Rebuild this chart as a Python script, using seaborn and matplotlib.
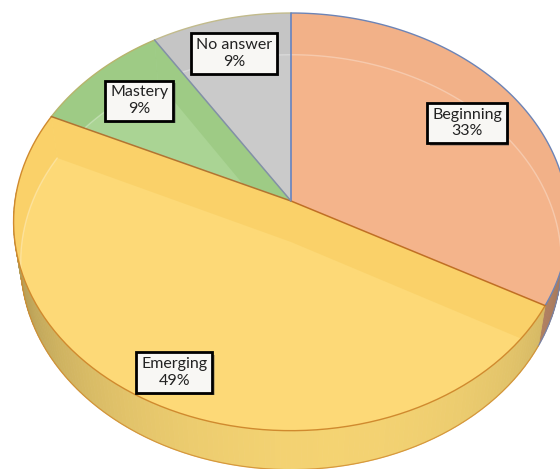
import numpy as np
import matplotlib
matplotlib.use("Agg")
import matplotlib.pyplot as plt
import matplotlib.patheffects as pe
from matplotlib.patches import Polygon
import seaborn as sns

# Survey result shares
categories = ["Beginning", "Emerging", "Mastery", "No answer"]
shares = [33, 49, 9, 9]

# Slice styling
top_colors = ["#F4B48B", "#FDD977", "#AAD494", "#CACACA"]
shade_colors = ["#F0AE84", "#F8CD60", "#9AC881", "#C2C2C2"]
shade_alpha = [0.35, 0.6, 0.75, 0.5]
side_colors = ["#C9926F", "#F3D272", "#98C57F", "#B5B5B5"]
rim_colors = ["#6D84B6", "#D08A2E", "#B8B46C", "#C2BB8C"]
boundary_colors = ["#5B7EC2", "#C06F24", "#B27431", "#8290A6"]
label_radius = [0.77, 0.86, 0.77, 0.80]

sns.set_theme(style="white")
plt.rcParams["font.family"] = ["Lato", "DejaVu Sans"]
palette = sns.color_palette(top_colors)

W, H = 560, 469
fig = plt.figure(figsize=(W / 100, H / 100), dpi=100)
ax = fig.add_axes([0, 0, 1, 1])
ax.set_xlim(0, W)
ax.set_ylim(H, 0)
ax.axis("off")

# Perspective camera looking down on a flat cylinder of radius 1
ELEV = np.deg2rad(48.5)
DIST = 6.64
FOCAL = 1833.0
CX, CY = 291.0, 201.0
THICK = 0.23


def project(theta, r=1.0, z=0.0):
    theta = np.asarray(theta, dtype=float)
    X = r * np.sin(theta)
    Y = r * np.cos(theta)
    d = DIST + Y * np.cos(ELEV) - z * np.sin(ELEV)
    up = Y * np.sin(ELEV) + z * np.cos(ELEV)
    return CX + FOCAL * X / d, CY - FOCAL * up / d


def arc(a, b, r=1.0, z=0.0, n=None):
    n = n or max(8, int(abs(b - a) / np.deg2rad(1.0)))
    t = np.linspace(a, b, n)
    x, y = project(t, r, z)
    return np.column_stack([x, y])


def shade(color, f):
    rgb = np.array(matplotlib.colors.to_rgb(color))
    return tuple(np.clip(rgb * f, 0, 1))


total = float(sum(shares))
bounds = np.concatenate([[0.0], np.cumsum(shares) / total]) * 2 * np.pi
center_top = np.array(project(0.0, 0.0, 0.0))
center_bot = np.array(project(0.0, 0.0, -THICK))

# Outer side wall, drawn back to front
quads = []
for i in range(len(shares)):
    a, b = bounds[i], bounds[i + 1]
    steps = max(2, int(abs(b - a) / np.deg2rad(1.0)))
    ts = np.linspace(a, b, steps + 1)
    for t0, t1 in zip(ts[:-1], ts[1:]):
        tm = 0.5 * (t0 + t1)
        if np.cos(tm) > 0.05:
            continue
        pts = np.vstack([arc(t0, t1, z=0.0, n=2), arc(t1, t0, z=-THICK, n=2)])
        f = 0.70 + 0.30 * max(0.0, -np.cos(tm)) + 0.04 * np.sin(tm)
        quads.append((np.cos(tm), pts, shade(side_colors[i], f), i))
quads.sort(key=lambda q: -q[0])
for _, pts, col, i in quads:
    ax.add_patch(Polygon(pts, closed=True, facecolor=col, edgecolor=col,
                         linewidth=0.6, zorder=1))

# Front rims of the side wall
front = np.deg2rad([100.0, 260.0])
for i in range(len(shares)):
    a = max(bounds[i], front[0])
    b = min(bounds[i + 1], front[1])
    if b <= a:
        continue
    bot = arc(a, b, z=-THICK)
    ax.plot(bot[:, 0], bot[:, 1], color=rim_colors[i], lw=0.9, alpha=0.8, zorder=2)

# Top faces
top_patches = []
for i in range(len(shares)):
    a, b = bounds[i], bounds[i + 1]
    pts = np.vstack([center_top, arc(a, b)])
    poly = Polygon(pts, closed=True, facecolor=palette[i], edgecolor="none",
                   zorder=3, transform=ax.transData)
    ax.add_patch(poly)
    top_patches.append(poly)

# Inner walls and back rim seen through the translucent top
for i in range(len(shares)):
    a, b = bounds[i], bounds[i + 1]
    clip = top_patches[i]
    band = np.vstack([arc(a, b, z=0.0), arc(b, a, z=-THICK)])
    p = Polygon(band, closed=True, facecolor=shade_colors[i], edgecolor="none",
                alpha=shade_alpha[i], zorder=4)
    ax.add_patch(p)
    p.set_clip_path(clip)
    for t in (a, b):
        wall = np.array([center_top, project(t, 1.0, 0.0),
                         project(t, 1.0, -THICK), center_bot])
        w = Polygon(wall, closed=True, facecolor=shade_colors[i],
                    edgecolor="none", alpha=shade_alpha[i], zorder=4)
        ax.add_patch(w)
        w.set_clip_path(clip)
    rim = arc(a, b, z=-THICK)
    (ln,) = ax.plot(rim[:, 0], rim[:, 1], color="white", lw=1.0, alpha=0.3, zorder=5)
    ln.set_clip_path(clip)

# Slice outlines
for i in range(len(shares)):
    a, b = bounds[i], bounds[i + 1]
    rim = arc(a, b)
    ax.plot(rim[:, 0], rim[:, 1], color=rim_colors[i], lw=1.0, zorder=6)
for i, t in enumerate(bounds[:-1]):
    ex, ey = project(t)
    ax.plot([center_top[0], ex], [center_top[1], ey], color=boundary_colors[i],
            lw=1.1, zorder=6)

# Data labels
for i, (cat, val) in enumerate(zip(categories, shares)):
    mid = 0.5 * (bounds[i] + bounds[i + 1])
    lx, ly = project(mid, label_radius[i], 0.0)
    txt = ax.text(lx, ly, f"{cat}\n{val}%", ha="center", va="center",
                  fontsize=11.5, color="#222222", linespacing=1.25, zorder=8,
                  bbox=dict(boxstyle="square,pad=0.3", facecolor="#F8F7F4",
                            edgecolor="black", linewidth=2.0))
    txt.get_bbox_patch().set_path_effects([
        pe.SimplePatchShadow(offset=(1.8, -1.8), shadow_rgbFace="#555555", alpha=0.35),
        pe.Normal()])

fig.savefig("out.png", dpi=100)
